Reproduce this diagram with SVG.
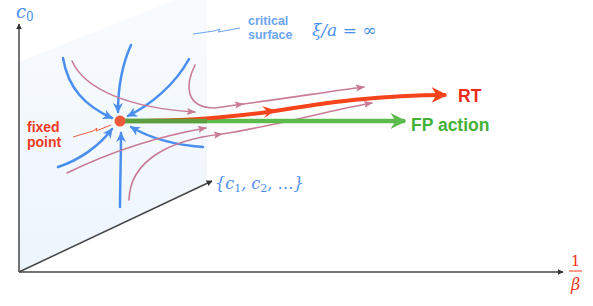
<svg xmlns="http://www.w3.org/2000/svg" width="593" height="306" viewBox="0 0 593 306">
<defs>
<linearGradient id="surf" x1="0" y1="0" x2="0" y2="1">
<stop offset="0" stop-color="#f8fbfe"/>
<stop offset="1" stop-color="#edf5fd"/>
</linearGradient>
<marker id="axh" viewBox="0 0 10 10" refX="9" refY="5" markerWidth="6" markerHeight="6" orient="auto" markerUnits="userSpaceOnUse"><path d="M0,0 L10,5 L0,10 Z" fill="#333"/></marker>
<marker id="bh" viewBox="0 0 10 10" refX="9" refY="5" markerWidth="10" markerHeight="10" orient="auto" markerUnits="userSpaceOnUse"><path d="M0,0 L10,5 L0,10 L3,5 Z" fill="#4a8ff0"/></marker>
<marker id="ph" viewBox="0 0 10 10" refX="9" refY="5" markerWidth="9" markerHeight="9" orient="auto" markerUnits="userSpaceOnUse"><path d="M0,1 L10,5 L0,9 L2,5 Z" fill="#c97b96"/></marker>
<marker id="rh" viewBox="0 0 10 10" refX="9" refY="5" markerWidth="16" markerHeight="16" orient="auto" markerUnits="userSpaceOnUse"><path d="M0,0 L10,5 L0,10 L3,5 Z" fill="#f5441c"/></marker>
<marker id="gh" viewBox="0 0 10 10" refX="9" refY="5" markerWidth="16" markerHeight="16" orient="auto" markerUnits="userSpaceOnUse"><path d="M0,0 L10,5 L0,10 L3,5 Z" fill="#5cbb4c"/></marker>
</defs>
<style>
.blue{fill:none;stroke:#4a8ff0;stroke-width:2.5;stroke-linecap:round;marker-end:url(#bh)}
.pink{fill:none;stroke:#c97b96;stroke-width:1.6;stroke-linecap:round}
.axis{fill:none;stroke:#444;stroke-width:1.5;marker-end:url(#axh)}
.math{font-family:"DejaVu Serif","Liberation Serif",serif;font-style:italic;fill:#4a8ff0}
.lbl{font-family:"Liberation Sans",Arial,sans-serif;font-weight:bold}
</style>
<g id="surface">
<path d="M19,62 L175,0 L207,0 L207,183 L19,272 Z" fill="url(#surf)"/>
</g>
<g id="axes">
<path class="axis" d="M19,272 L19,24"/>
<path class="axis" d="M19,272 L563,272"/>
<path class="axis" d="M19,272 L212,181"/>
<text class="math" x="16" y="18" font-size="18">c<tspan font-size="12" dy="3" font-style="normal">0</tspan></text>
<text class="math" x="215" y="189" font-size="16">{c<tspan font-size="11" dy="3" font-style="normal">1</tspan><tspan dy="-3">, c</tspan><tspan font-size="11" dy="3" font-style="normal">2</tspan><tspan dy="-3">, …}</tspan></text>
<g id="beta" fill="#f0341c" font-family="'DejaVu Serif','Liberation Serif',serif">
<text x="575.5" y="266" font-size="15" text-anchor="middle">1</text>
<line x1="569" y1="271" x2="582" y2="271" stroke="#f0341c" stroke-width="1"/>
<text x="575.5" y="290" font-size="16" font-style="italic" text-anchor="middle">β</text>
</g>
</g>
<g id="connectors">
<path class="blue" d="M63,58 C68,88 85,106 112,118"/>
<path class="blue" d="M131,45 C122,65 118,90 118,112"/>
<path class="blue" d="M189,59 C175,85 150,105 128,116"/>
<path class="blue" d="M203,147 C175,145 150,138 131,127"/>
<path class="blue" d="M120,207 C120,185 121,160 121,133"/>
<path class="blue" d="M58,167 C80,160 100,145 112,129"/>
<path class="pink" marker-end="url(#ph)" d="M72,61 C85,90 130,108 195,112"/>
<path class="pink" marker-end="url(#ph)" d="M195,65 C185,85 185,108 215,108 C225,107 235,105 243,104"/>
<path class="pink" marker-end="url(#ph)" d="M243,104 C290,98 325,92 364,87"/>
<path class="pink" marker-end="url(#ph)" d="M67,173 C110,152 160,136 206,128"/>
<path class="pink" marker-mid="url(#ph)" marker-end="url(#ph)" d="M129,200 C130,160 170,140 222,134 C285,124 330,110 372,103"/>
<path d="M120,121 L405,121" fill="none" stroke="#5cbb4c" stroke-width="4.5" marker-end="url(#gh)"/>
<path d="M120,121 C190,121 230,117 268,112 C330,102 380,95 446,95" fill="none" stroke="#f5441c" stroke-width="4" marker-end="url(#rh)"/>
<path d="M268,112 L262,106 L276,110.5 L264,118 Z" fill="#f5441c"/>
<path d="M120,121 L207,121" fill="none" stroke="#5d9f3f" stroke-width="4.5"/>
<path d="M193,34 L214,31 L220,29 L218,32 L240,28" fill="none" stroke="#6aa6f2" stroke-width="1"/>
<path d="M73,137 L93,131 L97,128 L96,131 L111,125" fill="none" stroke="#f0603c" stroke-width="1"/>
</g>
<g id="fixed-point">
<circle cx="120" cy="121" r="5.5" fill="#ef5a3a"/>
<text class="lbl" x="27" y="132" font-size="14" fill="#ee3a1e">fixed</text>
<text class="lbl" x="27" y="147" font-size="14" fill="#ee3a1e">point</text>
</g>
<g id="critical-surface">
<text class="lbl" x="248" y="25" font-size="12.5" fill="#6aa6f2">critical</text>
<text class="lbl" x="248" y="39" font-size="12.5" fill="#6aa6f2">surface</text>
<text class="math" x="312" y="36" font-size="17">ξ/a = ∞</text>
</g>
<g id="rt">
<text class="lbl" x="458" y="102" font-size="17.5" fill="#ee2a1a">RT</text>
</g>
<g id="fp-action">
<text class="lbl" x="411" y="131" font-size="17.5" fill="#44b036">FP action</text>
</g>
</svg>
